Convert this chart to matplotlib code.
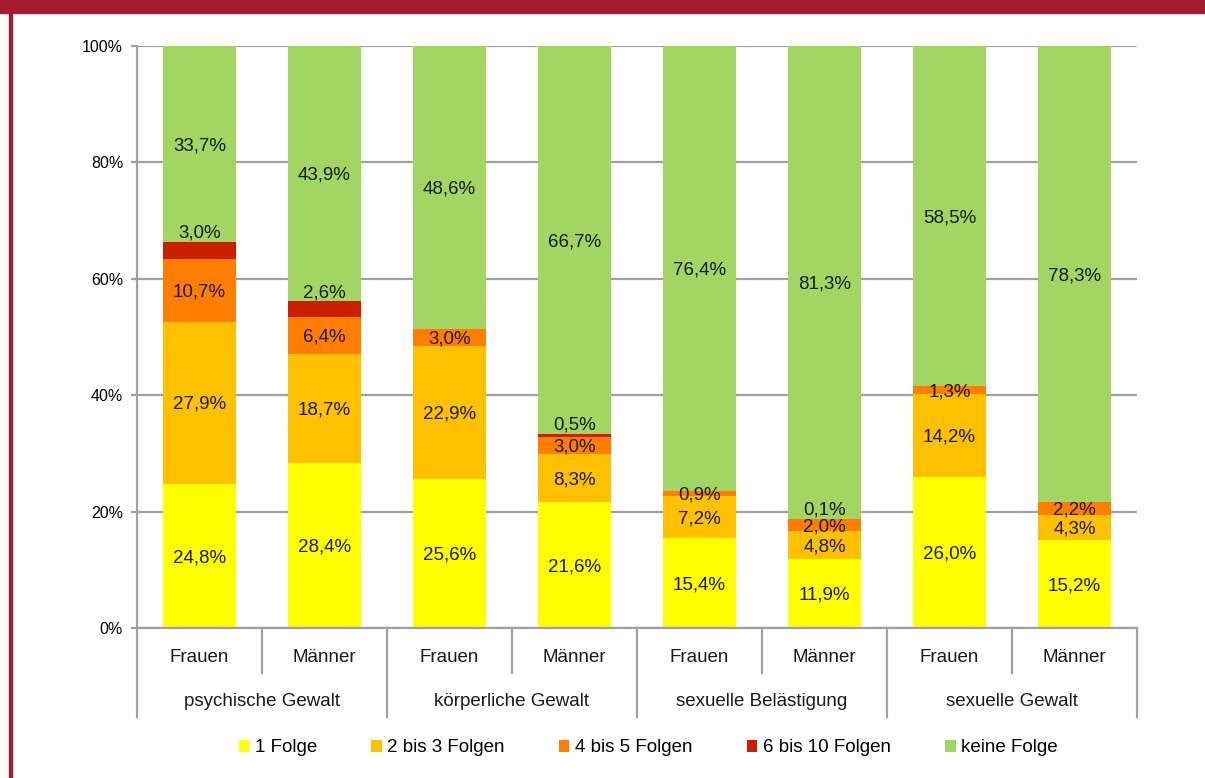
import numpy as np
import matplotlib.pyplot as plt
from matplotlib.patches import Rectangle
from matplotlib.lines import Line2D
import matplotlib.transforms as mtransforms

plt.rcParams['font.family'] = ['Liberation Sans', 'DejaVu Sans']

# categories
geschlecht = ['Frauen', 'Männer'] * 4
gruppen = ['psychische Gewalt', 'körperliche Gewalt', 'sexuelle Belästigung', 'sexuelle Gewalt']
serien = ['1 Folge', '2 bis 3 Folgen', '4 bis 5 Folgen', '6 bis 10 Folgen', 'keine Folge']

# values in percent (0 = no segment)
folge_1 = [24.8, 28.4, 25.6, 21.6, 15.4, 11.9, 26.0, 15.2]
folgen_2_3 = [27.9, 18.7, 22.9, 8.3, 7.2, 4.8, 14.2, 4.3]
folgen_4_5 = [10.7, 6.4, 3.0, 3.0, 0.9, 2.0, 1.3, 2.2]
folgen_6_10 = [3.0, 2.6, 0.0, 0.5, 0.0, 0.1, 0.0, 0.0]
keine_folge = [33.7, 43.9, 48.6, 66.7, 76.4, 81.3, 58.5, 78.3]

farben = ['#FFFF00', '#FFC000', '#FF7D00', '#CC1E00', '#A2D662']
grau = '#A0A0A0'

daten = np.array([folge_1, folgen_2_3, folgen_4_5, folgen_6_10, keine_folge])
summe = daten.sum(axis=0)
anteile = daten / summe * 100  # 100% stacked

fig = plt.figure(figsize=(12.05, 7.78), dpi=100)
ax = fig.add_axes([137 / 1205, 1 - 628 / 778, 1000 / 1205, 582 / 778])

x = np.arange(len(geschlecht))
unten = np.zeros(len(x))
for i, (name, farbe) in enumerate(zip(serien, farben)):
    ax.bar(x, anteile[i], 0.58, bottom=unten, color=farbe, label=name,
           edgecolor='none', zorder=3)
    for j in range(len(x)):
        wert = daten[i, j]
        if wert <= 0:
            continue
        if i == 3:
            # thin segments: label sits just above the bar part
            y = unten[j] + anteile[i, j] + 1.8
        else:
            y = unten[j] + anteile[i, j] / 2
        ax.text(x[j], y - 0.3, f'{wert:.1f}%'.replace('.', ','), ha='center', va='center',
                fontsize=13.5, color='#1A1A1A', zorder=4)
    unten += anteile[i]

ax.set_xlim(-0.5, 7.5)
ax.set_ylim(0, 100)
ax.set_yticks(np.arange(0, 101, 20))
ax.set_yticklabels([f'{v}%' for v in range(0, 101, 20)], fontsize=11.5)
ax.yaxis.grid(True, color=grau, linewidth=1.6, zorder=0)
ax.set_xticks([])
for s in ['top', 'right']:
    ax.spines[s].set_visible(False)
for s in ['left', 'bottom']:
    ax.spines[s].set_color(grau)
    ax.spines[s].set_linewidth(1.6)
    ax.spines[s].set_zorder(5)
ax.tick_params(axis='y', length=4, width=1.6, color=grau, pad=6)

# two-level category axis
trans = mtransforms.blended_transform_factory(ax.transData, fig.transFigure)
for j, name in enumerate(geschlecht):
    ax.text(x[j], 1 - 657 / 778, name, transform=trans, ha='center', va='center',
            fontsize=13.5, color='#1A1A1A')
for g, name in enumerate(gruppen):
    ax.text(2 * g + 0.5, 1 - 702 / 778, name, transform=trans, ha='center', va='center',
            fontsize=13.5, color='#1A1A1A')
for k in range(9):
    pos = k - 0.5
    tief = 717 if k % 2 == 0 else 673
    fig.add_artist(Line2D([pos, pos], [1 - 628 / 778, 1 - tief / 778], transform=trans,
                          color=grau, linewidth=1.6))

fig.legend(loc='center', bbox_to_anchor=(0.538, 1 - 748 / 778), ncol=5, frameon=False,
           fontsize=13.5, handlelength=0.55, handleheight=0.55, handletextpad=0.3,
           columnspacing=2.9)

# frame
rot = '#A31C32'
fig.add_artist(Rectangle((0, 1 - 13 / 778), 1, 13 / 778, transform=fig.transFigure,
                         color=rot, zorder=10))
fig.add_artist(Rectangle((9 / 1205, 0), 3 / 1205, 1, transform=fig.transFigure,
                         color=rot, zorder=10))

fig.savefig('out.png', dpi=100)
